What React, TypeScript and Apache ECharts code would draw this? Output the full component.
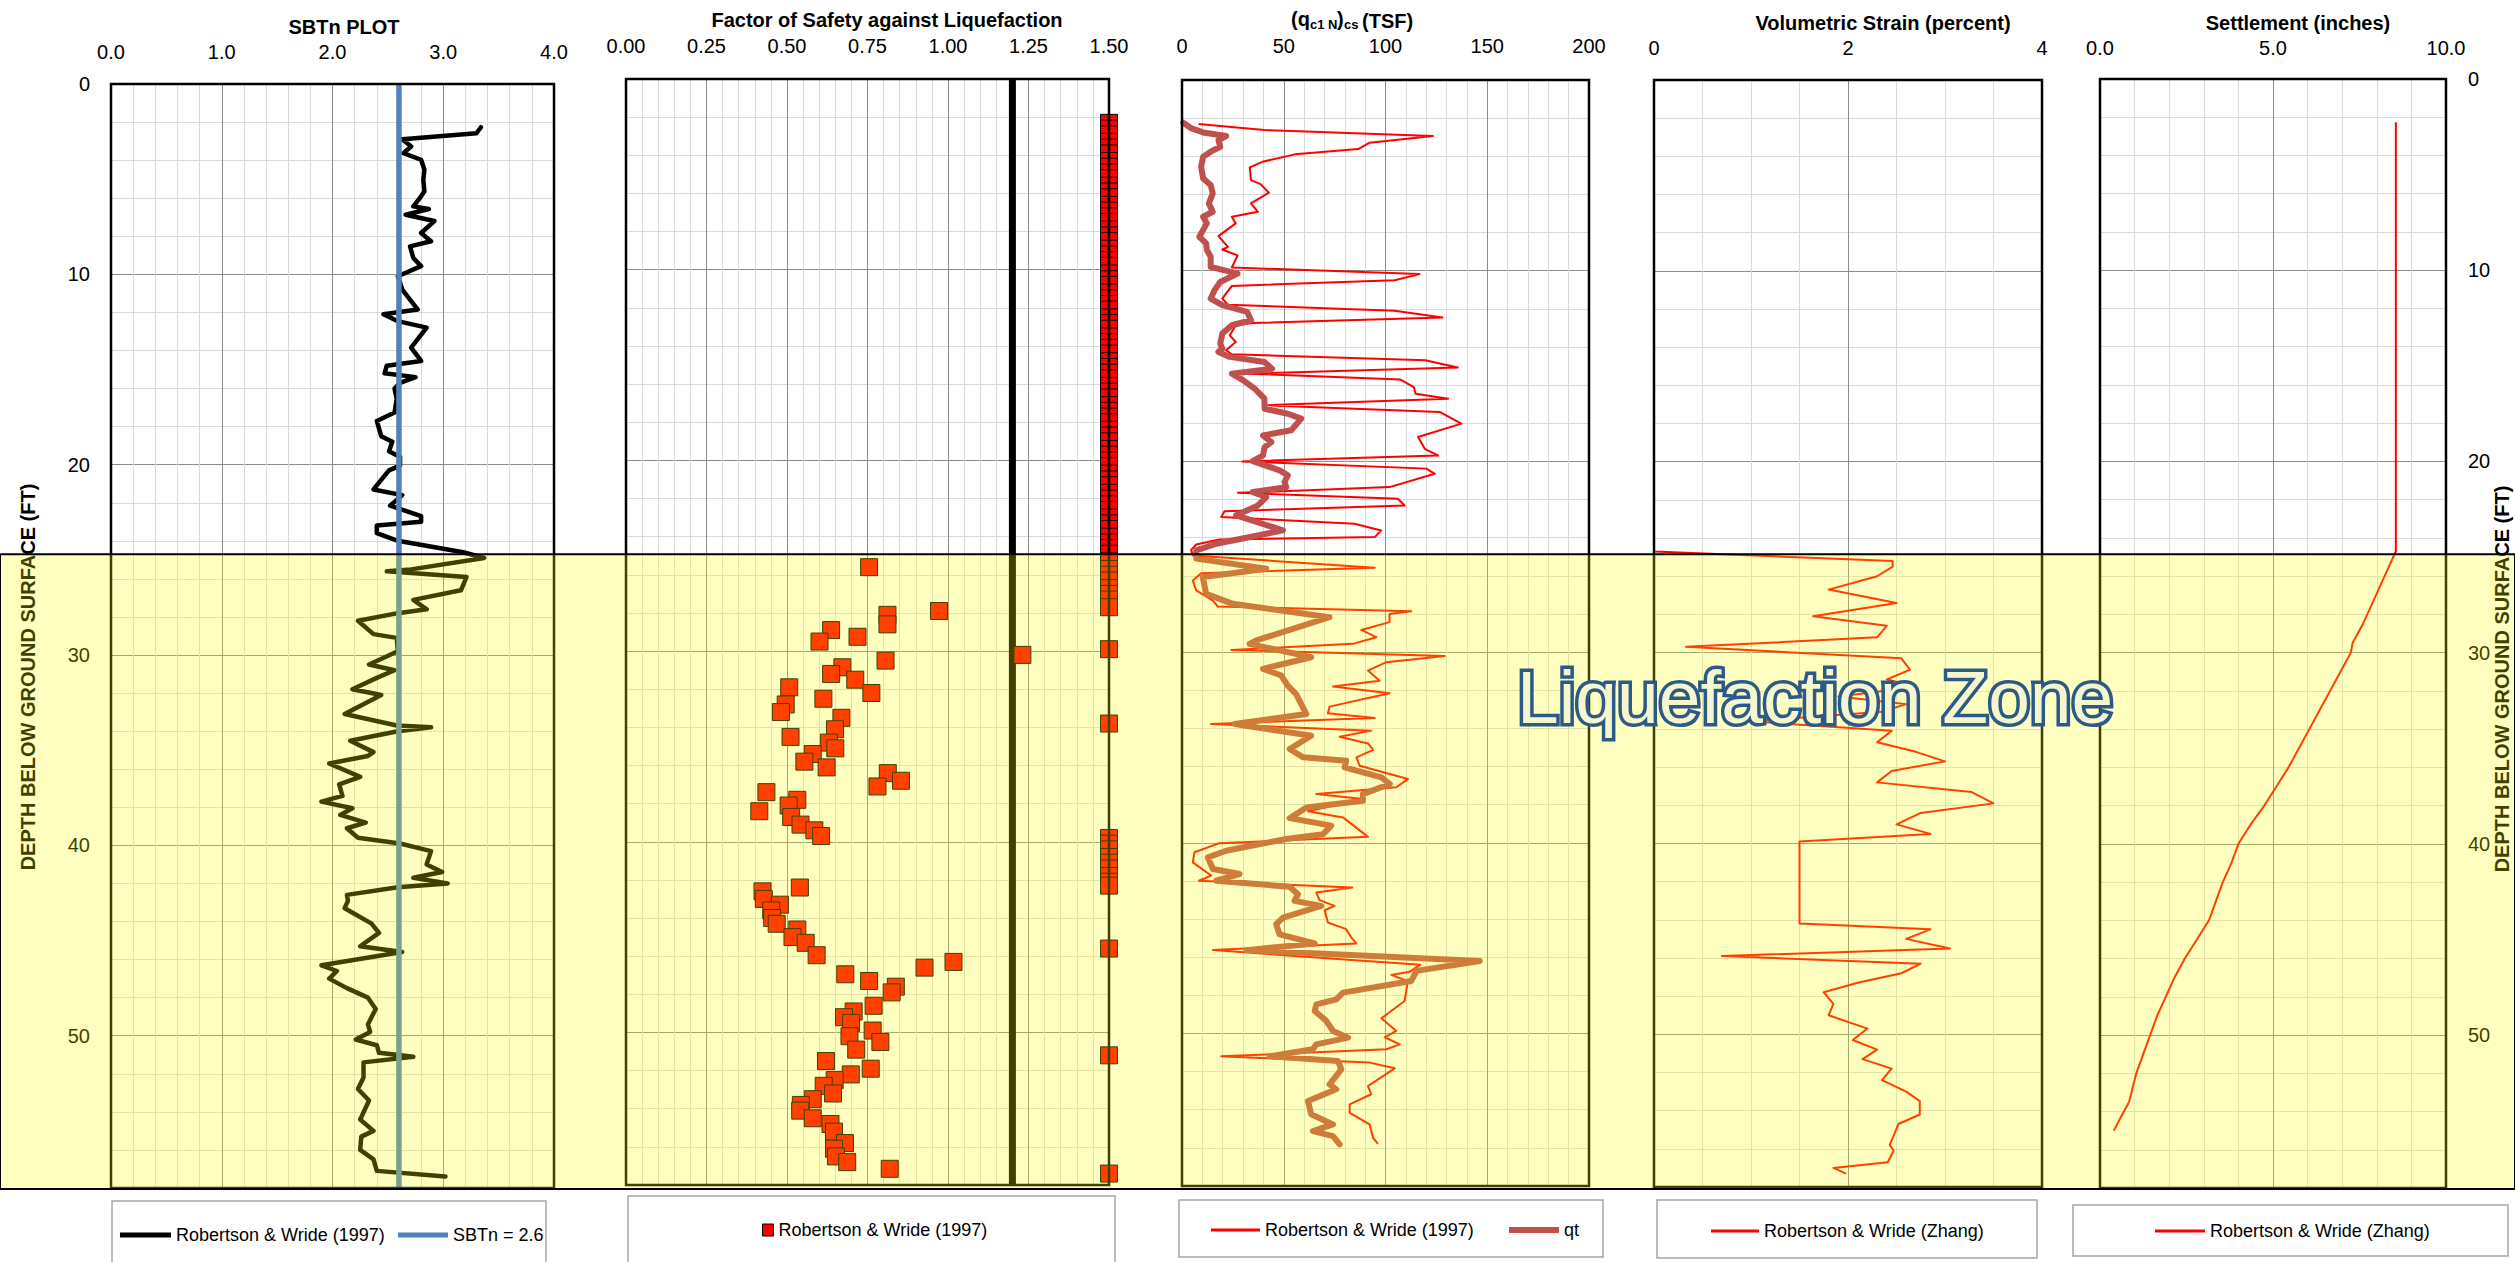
import React, { useEffect, useRef } from 'react';
import * as echarts from 'echarts';

const FONT = '"Liberation Sans", Arial, sans-serif';
const MAJOR = '#8C8C8C';
const MINOR = '#DADADA';

// ---------------- data ----------------
const depthTicks = [0, 10, 20, 30, 40, 50];
const depthRange = [0, 58];
const liquefactionTop = 24.7;

// SBTn plot
const sbtnTicks = [0, 1, 2, 3, 4];
const sbtnDepth = [2.27, 2.59, 2.9, 3.28, 3.63, 3.98, 4.5, 5.03, 5.64, 5.9, 6.43, 6.57, 6.87, 7.2, 7.83, 8.26, 8.53, 9.14, 9.57, 10.1, 10.8, 11.85, 12.1, 12.46, 12.8, 13.85, 14.55, 14.8, 15.2, 15.4, 15.7, 16.0, 16.56, 17.26, 17.7, 18.5, 18.8, 19.3, 19.6, 20.05, 20.3, 20.8, 21.3, 21.6, 22.15, 22.7, 23.0, 23.2, 23.6, 24.0, 24.6, 24.9, 25.5, 25.6, 25.9, 26.6, 27.1, 27.6, 27.8, 28.2, 28.9, 29.1, 29.8, 30.5, 30.8, 31.2, 31.8, 32.1, 33.1, 33.7, 33.8, 34.0, 34.5, 35.1, 35.3, 35.7, 36.4, 36.8, 37.4, 37.7, 38.05, 38.4, 38.8, 39.1, 39.6, 39.9, 40.3, 41.0, 41.4, 41.7, 42.0, 42.2, 42.6, 42.9, 43.3, 44.1, 44.6, 45.3, 45.6, 46.3, 46.6, 47.0, 47.5, 48.0, 48.6, 49.4, 49.8, 50.2, 50.5, 50.9, 51.1, 51.4, 52.2, 52.8, 53.4, 54.4, 55.0, 55.3, 56.0, 56.5, 57.1, 57.4];
const sbtnValue = [3.34, 3.30, 2.63, 2.71, 2.64, 2.80, 2.83, 2.82, 2.83, 2.80, 2.73, 2.87, 2.66, 2.92, 2.80, 2.89, 2.70, 2.73, 2.80, 2.59, 2.63, 2.77, 2.46, 2.59, 2.85, 2.71, 2.80, 2.49, 2.47, 2.75, 2.61, 2.56, 2.58, 2.56, 2.40, 2.44, 2.54, 2.51, 2.61, 2.61, 2.51, 2.44, 2.37, 2.63, 2.52, 2.80, 2.80, 2.40, 2.40, 2.59, 3.18, 3.37, 2.71, 2.49, 3.21, 3.16, 2.73, 2.85, 2.59, 2.23, 2.37, 2.58, 2.59, 2.33, 2.56, 2.40, 2.18, 2.44, 2.11, 2.58, 2.89, 2.59, 2.16, 2.37, 2.32, 1.97, 2.25, 2.06, 2.09, 1.90, 2.18, 2.07, 2.30, 2.13, 2.23, 2.61, 2.89, 2.85, 2.99, 2.73, 3.04, 2.59, 2.13, 2.14, 2.11, 2.35, 2.42, 2.25, 2.63, 1.90, 2.04, 1.97, 2.13, 2.32, 2.39, 2.32, 2.34, 2.21, 2.40, 2.42, 2.73, 2.28, 2.28, 2.23, 2.33, 2.25, 2.37, 2.26, 2.25, 2.37, 2.40, 3.02];
const sbtnThreshold = 2.6;
const sbtnThresholdDepth = [0, 58];

// Factor of safety
const fsTicks = [0, 0.25, 0.5, 0.75, 1, 1.25, 1.5];
const fsLimit = 1.2;
const fsLimitDepth = [0, 58];
const fsDepth = [2.3, 2.6, 2.9, 3.3, 3.6, 3.9, 4.3, 4.6, 4.9, 5.2, 5.6, 5.9, 6.2, 6.6, 6.9, 7.2, 7.5, 7.9, 8.2, 8.5, 8.9, 9.2, 9.5, 9.8, 10.2, 10.5, 10.8, 11.2, 11.5, 11.8, 12.1, 12.5, 12.8, 13.1, 13.5, 13.8, 14.1, 14.4, 14.8, 15.1, 15.4, 15.7, 16.1, 16.4, 16.7, 17.1, 17.4, 17.7, 18.0, 18.4, 18.7, 19.0, 19.4, 19.7, 20.0, 20.3, 20.7, 21.0, 21.3, 21.7, 22.0, 22.3, 22.6, 23.0, 23.3, 23.6, 24.0, 24.3, 24.6, 24.9, 25.3,
  25.6, 25.7, 26.0, 26.3, 26.7, 27.0, 27.3, 27.7, 27.9, 28.1, 28.6, 28.9, 29.25, 29.5, 29.9, 30.2, 30.5, 30.85, 31.2, 31.5, 31.9, 32.2, 32.5, 32.8, 33.2, 33.5, 33.8, 34.1, 34.5, 34.8, 35.1, 35.4, 35.8, 36.1, 36.4, 36.8, 37.1, 37.4, 37.8, 38.1, 38.4, 38.7, 39.1, 39.4, 39.7,
  39.8, 40.1, 40.4, 40.8, 41.1, 41.4, 41.8, 42.1, 42.3, 42.4, 42.6, 43.0, 43.3, 43.6, 44.0, 44.3, 44.6, 45.0, 45.3, 45.6, 45.95, 46.3, 46.6, 46.95, 47.3, 47.6, 47.9, 48.6, 48.9, 49.2, 49.5, 49.9, 50.2, 50.5, 50.9,
  51.2, 51.5, 51.9, 52.2, 52.5, 52.8, 53.2, 53.5, 53.8, 54.1, 54.5, 54.8, 55.2, 55.8, 56.1, 56.5, 56.8, 57.15, 57.4];
const fsValue = [1.5, 1.5, 1.5, 1.5, 1.5, 1.5, 1.5, 1.5, 1.5, 1.5, 1.5, 1.5, 1.5, 1.5, 1.5, 1.5, 1.5, 1.5, 1.5, 1.5, 1.5, 1.5, 1.5, 1.5, 1.5, 1.5, 1.5, 1.5, 1.5, 1.5, 1.5, 1.5, 1.5, 1.5, 1.5, 1.5, 1.5, 1.5, 1.5, 1.5, 1.5, 1.5, 1.5, 1.5, 1.5, 1.5, 1.5, 1.5, 1.5, 1.5, 1.5, 1.5, 1.5, 1.5, 1.5, 1.5, 1.5, 1.5, 1.5, 1.5, 1.5, 1.5, 1.5, 1.5, 1.5, 1.5, 1.5, 1.5, 1.5, 1.5, 1.5,
  0.755, 1.5, 1.5, 1.5, 1.5, 1.5, 1.5, 1.5, 0.972, 0.812, 0.812, 0.637, 0.719, 0.601, 1.5, 1.231, 0.806, 0.672, 0.637, 0.712, 0.507, 0.762, 0.613, 0.496, 0.481, 0.669, 1.5, 0.649, 0.511, 0.630, 0.650, 0.580, 0.554, 0.623, 0.813, 0.854, 0.781, 0.436, 0.532, 0.505, 0.414, 0.513, 0.542, 0.585, 0.606,
  1.5, 1.5, 1.5, 1.5, 1.5, 1.5, 1.5, 1.5, 1.5, 0.540, 0.424, 0.428, 0.478, 0.451, 0.454, 0.468, 0.532, 0.517, 0.558, 1.5, 0.592, 1.017, 0.927, 0.681, 0.755, 0.838, 0.825, 0.769, 0.707, 0.677, 0.699, 0.766, 0.694, 0.790, 0.715,
  1.5, 0.621, 0.760, 0.698, 0.648, 0.614, 0.643, 0.580, 0.543, 0.541, 0.580, 0.635, 0.646, 0.680, 0.646, 0.652, 0.687, 0.819, 1.5];

// (qc1N)cs and qt
const qcTicks = [0, 50, 100, 150, 200];
const qcDepth = [2.31, 2.62, 2.94, 3.29, 3.62, 3.9, 4.29, 4.58, 5.25, 5.46, 5.91, 6.47, 6.91, 7.17, 7.52, 8.19, 8.75, 8.89, 9.2, 9.83, 10.18, 10.5, 10.8, 11.46, 11.78, 12.1, 12.46, 12.74, 12.86, 13.39, 13.74, 14.17, 14.38, 14.7, 15.08, 15.4, 15.71, 16.1, 16.45, 16.71, 17.06, 17.41, 18.02, 18.72, 19.34, 19.69, 20.0, 20.38, 20.65, 21.35, 21.65, 21.96, 22.31, 22.62, 22.92, 23.27, 23.62, 23.97, 24.1, 24.36, 24.64, 24.93, 25.58, 25.87, 26.25, 26.77, 27.3, 27.61, 27.86, 28.0, 28.43, 28.84, 29.22, 29.57, 29.89, 30.2, 30.53, 30.97, 31.5, 31.81, 32.16, 32.86, 33.21, 33.46, 33.77, 34.12, 34.44, 34.79, 35.13, 35.52, 35.96, 36.66, 37.09, 37.44, 37.71, 38.35, 38.67, 39.69, 40.02, 40.5, 41.03, 41.72, 41.99, 42.35, 42.61, 43.01, 43.31, 43.54, 44.18, 44.53, 44.97, 45.28, 45.63, 46.4, 46.76, 46.93, 47.25, 47.5, 48.3, 49.2, 49.87, 50.2, 50.57, 50.83, 51.2, 51.53, 51.83, 52.76, 53.19, 53.72, 54.16, 54.77, 55.47, 55.79];
const qcValue = [8.1, 40.5, 123.3, 92.2, 86.6, 55.5, 39.5, 33.3, 33.9, 38.6, 42.7, 33.9, 37.3, 24.5, 26.4, 17.9, 22.6, 19.8, 27.3, 24.5, 116.7, 104.5, 24.5, 19.8, 22.6, 104.5, 128, 34.8, 26.4, 23.5, 26.4, 21.6, 24.5, 119.5, 135.5, 32, 107.3, 113.9, 114.8, 130.8, 40.6, 126.6, 137.3, 116, 119.3, 125.8, 29.6, 120.1, 124.2, 102, 27.5, 106.1, 109.4, 20.9, 19.3, 84.8, 97.9, 94.7, 18.4, 7.0, 4.5, 5.3, 94.7, 9.4, 5.3, 7.0, 15.2, 17.6, 112.7, 102, 102, 88.1, 95.5, 84, 24.2, 129.1, 100.4, 91.4, 97.1, 74.2, 102, 72.5, 71.7, 94.7, 14.3, 93.0, 77.5, 91.4, 93.9, 85.7, 87.3, 111, 105.3, 66, 88.9, 61.9, 79.1, 91.4, 18.4, 6.1, 5.3, 14.3, 8.3, 83.7, 66, 67.6, 75, 70.1, 71.7, 80.7, 83.2, 85.7, 15.2, 117, 111.9, 102.9, 110.6, 110.6, 109.4, 98, 105.3, 99.6, 107, 100.4, 19.3, 92.2, 104.5, 91.4, 93, 82.4, 82.4, 92.2, 93.9, 96.3];
const qtDepth = [2.24, 2.54, 2.75, 2.94, 3.15, 3.5, 3.76, 4.02, 4.55, 5.16, 5.51, 5.95, 6.47, 6.91, 7.17, 7.52, 8.22, 8.57, 8.92, 9.27, 9.8, 10.15, 10.59, 11.02, 11.46, 11.81, 12.16, 12.6, 12.86, 13.3, 13.82, 14.09, 14.26, 14.52, 14.79, 15.14, 15.4, 15.75, 16.19, 16.71, 17.24, 17.5, 17.76, 18.37, 18.64, 18.99, 19.25, 19.69, 19.99, 20.47, 20.73, 21.08, 21.35, 21.61, 21.87, 22.31, 22.83, 23.62, 24.32, 24.67, 25.1, 25.63, 26.07, 26.95, 27.47, 28.17, 29.39, 29.57, 30.27, 30.88, 31.23, 31.76, 32.2, 33.25, 33.77, 34.39, 35.08, 35.52, 35.7, 36.05, 36.57, 36.92, 37.45, 37.8, 38.15, 38.71, 39.1, 39.55, 39.8, 40.42, 40.77, 41.38, 41.64, 41.99, 42.31, 42.7, 43.05, 43.31, 43.92, 44.27, 44.8, 45.28, 45.63, 46.2, 46.72, 47.25, 47.86, 48.21, 48.48, 48.82, 49.34, 49.87, 50.22, 50.57, 50.83, 51.2, 51.44, 51.88, 52.67, 52.93, 53.54, 54.24, 54.77, 55.12, 55.38, 55.82];
const qtValue = [0.6, 4.7, 10.4, 21.7, 17.9, 18.8, 14.1, 10.4, 9.4, 10.4, 14.1, 15.1, 13.2, 15.1, 10.4, 12.2, 8.5, 11.9, 12.2, 14.1, 14.1, 27.3, 18.8, 16, 14.1, 19.8, 32, 33.9, 24.5, 19.8, 18.8, 19.8, 17.9, 23.5, 40.5, 44.2, 24.5, 30.1, 35.8, 40.5, 40.6, 52, 58.6, 53.7, 39.8, 43.9, 40.6, 39.8, 34.8, 48, 52, 50.4, 51.2, 34.8, 41.4, 37.3, 26.6, 49.6, 16.8, 7, 7, 41.4, 10.2, 11.9, 25, 72.5, 36.5, 33.2, 63.5, 39.8, 48.8, 52, 56.1, 61.1, 25.8, 63.5, 52.9, 59.4, 80.7, 79.9, 98, 102.1, 88.9, 88.9, 61.1, 52.9, 73.4, 69.3, 51.2, 21.7, 12.7, 15.2, 28.3, 16.8, 52.9, 57, 55.3, 68.4, 49.6, 46.3, 47.9, 65.2, 31.6, 146.3, 115.2, 112.7, 79.1, 75.8, 66, 65.2, 70.9, 74.2, 81.6, 66, 64.3, 43, 76.6, 78.3, 72.5, 75.8, 61.9, 63.5, 74.2, 64.3, 74.2, 77.5];

// Volumetric strain (percent)
const strainTicks = [0, 2, 4];
const strainDepth = [2.26, 24.7, 25.2, 25.5, 26.0, 26.7, 27.4, 28.1, 28.6, 29.2, 29.7, 30.3, 30.9, 31.4, 31.8, 32.3, 32.7, 33.1, 33.6, 34.1, 34.7, 35.2, 35.7, 36.2, 36.8, 37.3, 37.9, 38.4, 39.0, 39.5, 39.9, 44.2, 44.5, 45.0, 45.5, 45.9, 46.3, 46.8, 47.3, 47.8, 48.4, 49.0, 49.7, 50.3, 50.8, 51.3, 51.8, 52.4, 53.0, 53.5, 54.2, 54.7, 55.8, 56.1, 56.7, 57.0, 57.3];
const strainValue = [0, 0, 2.46, 2.46, 2.30, 1.80, 2.50, 1.64, 2.40, 2.30, 0.33, 2.55, 2.64, 2.40, 2.70, 1.90, 2.60, 2.35, 1.00, 2.45, 2.30, 2.70, 3.00, 2.45, 2.30, 3.27, 3.50, 2.75, 2.50, 2.85, 1.50, 1.50, 2.85, 2.60, 3.05, 0.70, 2.75, 2.55, 2.10, 1.75, 1.85, 1.80, 2.20, 2.05, 2.30, 2.15, 2.45, 2.35, 2.60, 2.74, 2.74, 2.52, 2.43, 2.47, 2.41, 1.85, 1.98];

// Settlement (inches)
const settleTicks = [0, 5, 10];
const settleDepth = [2.26, 24.7, 25.5, 26.5, 27.5, 28.5, 29.5, 30.0, 31.0, 32.0, 33.0, 34.0, 35.0, 36.0, 37.0, 38.0, 39.0, 40.0, 41.0, 42.0, 43.0, 44.0, 45.0, 46.0, 47.0, 48.0, 49.0, 50.0, 51.0, 52.0, 53.5, 54.3, 55.0];
const settleValue = [8.55, 8.55, 8.35, 8.1, 7.85, 7.6, 7.3, 7.25, 6.95, 6.65, 6.35, 6.05, 5.75, 5.45, 5.1, 4.75, 4.35, 4.0, 3.8, 3.55, 3.35, 3.15, 2.8, 2.45, 2.15, 1.9, 1.65, 1.45, 1.25, 1.05, 0.84, 0.6, 0.4];

// ---------------- layout ----------------
const PANELS = [
  { left: 111, top: 84, width: 443, height: 1104, labelMargin: 22 },
  { left: 626, top: 79, width: 483, height: 1106, labelMargin: 23 },
  { left: 1182, top: 80, width: 407, height: 1106, labelMargin: 24 },
  { left: 1654, top: 80, width: 388, height: 1107, labelMargin: 22 },
  { left: 2100, top: 79, width: 346, height: 1109, labelMargin: 21 },
];

function pairs(xs: number[], ds: number[]) {
  return ds.map((d, i) => [xs[i], d]);
}

function splitColors(majorEvery: number) {
  const c = [MAJOR];
  for (let k = 1; k < majorEvery; k++) c.push(MINOR);
  return c;
}

function xAxisFor(idx: number, min: number, max: number, step: number, majorEvery: number, ticks: number[], digits: number) {
  return {
    gridIndex: idx,
    type: 'value',
    position: 'top',
    min,
    max,
    interval: step,
    axisLine: { show: false },
    axisTick: { show: false },
    axisLabel: {
      margin: PANELS[idx].labelMargin,
      fontSize: 20,
      color: '#000',
      fontFamily: FONT,
      formatter: (v: number) => {
        const hit = ticks.find((t) => Math.abs(t - v) < 1e-6);
        return hit === undefined ? '' : hit.toFixed(digits);
      },
    },
    splitLine: { show: true, lineStyle: { color: splitColors(majorEvery), width: 1 } },
  };
}

function yAxisFor(idx: number, showLabels: boolean, position: string) {
  return {
    gridIndex: idx,
    type: 'value',
    inverse: true,
    min: depthRange[0],
    max: depthRange[1],
    interval: 2,
    position,
    axisLine: { show: false },
    axisTick: { show: false },
    axisLabel: {
      show: showLabels,
      margin: position === 'right' ? 22 : 21,
      fontSize: 20,
      color: '#000',
      fontFamily: FONT,
      formatter: (v: number) => (depthTicks.some((t) => Math.abs(t - v) < 1e-6) ? String(Math.round(v)) : ''),
    },
    splitLine: { show: true, lineStyle: { color: splitColors(5), width: 1 } },
  };
}

function legendFor(left: number, top: number, name: string, w: number, h: number, itemStyle: any) {
  return {
    show: true,
    left,
    top,
    orient: 'horizontal',
    padding: 0,
    itemGap: 0,
    itemWidth: w,
    itemHeight: h,
    selectedMode: false,
    textStyle: { fontSize: 18, color: '#000', fontFamily: FONT },
    data: [{ name, icon: 'rect', itemStyle }],
  };
}

function text(x: number, y: number, str: string, font: string, extra: any = {}) {
  return {
    type: 'text',
    x,
    y,
    z: 10,
    style: { text: str, font, fill: '#000', align: 'center', verticalAlign: 'middle', ...extra },
  };
}

export default function App() {
  const ref = useRef<HTMLDivElement>(null);

  useEffect(() => {
    document.body.style.margin = '0';
    document.body.style.overflow = 'hidden';
    if (!ref.current) return;
    const chart = echarts.init(ref.current, null, { renderer: 'svg' });

    const noEmph = { disabled: true };
    const option: any = {
      animation: false,
      backgroundColor: '#ffffff',
      textStyle: { fontFamily: FONT },
      grid: PANELS.map((p) => ({ left: p.left, top: p.top, width: p.width, height: p.height, containLabel: false })),
      xAxis: [
        xAxisFor(0, 0, 4, 0.2, 5, sbtnTicks, 1),
        xAxisFor(1, 0, 1.5, 0.05, 5, fsTicks, 2),
        xAxisFor(2, 0, 200, 10, 5, qcTicks, 0),
        xAxisFor(3, 0, 4, 0.5, 4, strainTicks, 0),
        xAxisFor(4, 0, 10, 1, 5, settleTicks, 1),
      ],
      yAxis: [
        yAxisFor(0, true, 'left'),
        yAxisFor(1, false, 'left'),
        yAxisFor(2, false, 'left'),
        yAxisFor(3, false, 'left'),
        yAxisFor(4, true, 'right'),
      ],
      legend: [
        legendFor(120, 1226, 'Robertson & Wride (1997)', 51, 5, { color: '#000', borderWidth: 0 }),
        legendFor(398, 1226, 'SBTn = 2.6', 50, 5, { color: '#4F81BD', borderWidth: 0 }),
        legendFor(762, 1221, 'Robertson & Wride (1997)', 11, 12, { color: '#FF0000', borderColor: '#000', borderWidth: 1 }),
        legendFor(1211, 1221, 'Robertson & Wride (1997)', 49, 3, { color: '#FF0000', borderWidth: 0 }),
        legendFor(1509, 1221, 'qt', 50, 6, { color: '#C0504D', borderWidth: 0 }),
        legendFor(1711, 1222, 'Robertson & Wride (Zhang)', 48, 3, { color: '#FF0000', borderWidth: 0 }),
        legendFor(2155, 1222, 'Robertson & Wride (Zhang)', 50, 3, { color: '#FF0000', borderWidth: 0 }),
      ],
      series: [
        {
          type: 'line', name: 'Robertson & Wride (1997)', xAxisIndex: 0, yAxisIndex: 0,
          data: pairs(sbtnValue, sbtnDepth), symbol: 'none', showSymbol: false, emphasis: noEmph,
          lineStyle: { color: '#000', width: 4.5, cap: 'round', join: 'round' }, itemStyle: { color: '#000' }, z: 3,
        },
        {
          type: 'line', name: 'SBTn = 2.6', xAxisIndex: 0, yAxisIndex: 0,
          data: sbtnThresholdDepth.map((d) => [sbtnThreshold, d]), symbol: 'none', emphasis: noEmph,
          lineStyle: { color: '#4F81BD', width: 5.5 }, itemStyle: { color: '#4F81BD' }, z: 4,
        },
        {
          type: 'line', name: 'FS = 1.2', xAxisIndex: 1, yAxisIndex: 1,
          data: fsLimitDepth.map((d) => [fsLimit, d]), symbol: 'none', emphasis: noEmph, silent: true,
          lineStyle: { color: '#000', width: 7 }, itemStyle: { color: '#000' }, z: 3,
        },
        {
          type: 'scatter', name: 'Robertson & Wride (1997)', xAxisIndex: 1, yAxisIndex: 1,
          data: pairs(fsValue, fsDepth), symbol: 'rect', symbolSize: 17, clip: false, emphasis: noEmph,
          itemStyle: { color: '#FF0000', borderColor: '#000', borderWidth: 1, opacity: 1 }, z: 4,
        },
        {
          type: 'line', name: 'Robertson & Wride (1997)', xAxisIndex: 2, yAxisIndex: 2,
          data: pairs(qcValue, qcDepth), symbol: 'none', emphasis: noEmph,
          lineStyle: { color: '#FF0000', width: 2, join: 'round' }, itemStyle: { color: '#FF0000' }, z: 3,
        },
        {
          type: 'line', name: 'qt', xAxisIndex: 2, yAxisIndex: 2,
          data: pairs(qtValue, qtDepth), symbol: 'none', emphasis: noEmph,
          lineStyle: { color: '#C0504D', width: 6, cap: 'round', join: 'round' }, itemStyle: { color: '#C0504D' }, z: 4,
        },
        {
          type: 'line', name: 'Robertson & Wride (Zhang)', xAxisIndex: 3, yAxisIndex: 3,
          data: pairs(strainValue, strainDepth), symbol: 'none', emphasis: noEmph,
          lineStyle: { color: '#FF0000', width: 2, join: 'round' }, itemStyle: { color: '#FF0000' }, z: 3,
        },
        {
          type: 'line', name: 'Robertson & Wride (Zhang)', xAxisIndex: 4, yAxisIndex: 4,
          data: pairs(settleValue, settleDepth), symbol: 'none', emphasis: noEmph,
          lineStyle: { color: '#FF0000', width: 2, join: 'round' }, itemStyle: { color: '#FF0000' }, z: 3,
        },
      ],
    };
    chart.setOption(option);

    const zoneTop = chart.convertToPixel({ gridIndex: 0 } as any, [0, liquefactionTop]) as number[];
    const zoneBot = chart.convertToPixel({ gridIndex: 0 } as any, [0, depthRange[1]]) as number[];
    const W = chart.getWidth();

    const bold = `bold 20px ${FONT}`;
    const graphics: any[] = [];

    // legend boxes
    const boxes = [
      [112, 1201, 434, 80],
      [628, 1196, 487, 80],
      [1179, 1200, 424, 57],
      [1657, 1200, 380, 58],
      [2073, 1205, 435, 51],
    ];
    boxes.forEach((b) =>
      graphics.push({
        type: 'rect', z: 1, silent: true,
        shape: { x: b[0], y: b[1], width: b[2], height: b[3] },
        style: { fill: '#ffffff', stroke: '#A6A6A6', lineWidth: 1.5 },
      })
    );

    // plot borders
    PANELS.forEach((p) =>
      graphics.push({
        type: 'rect', z: 6, silent: true,
        shape: { x: p.left, y: p.top, width: p.width, height: p.height },
        style: { fill: 'none', stroke: '#000', lineWidth: 2.5 },
      })
    );

    // titles
    graphics.push(text(344, 27, 'SBTn PLOT', bold));
    graphics.push(text(887, 20, 'Factor of Safety against Liquefaction', bold));
    graphics.push(text(1883, 23, 'Volumetric Strain (percent)', bold));
    graphics.push(text(2298, 23, 'Settlement (inches)', bold));
    graphics.push(text(1291, 19, '(q', bold, { align: 'left' }));
    graphics.push(text(1310, 24, 'c1 N', `bold 13px ${FONT}`, { align: 'left' }));
    graphics.push(text(1337, 19, ')', bold, { align: 'left' }));
    graphics.push(text(1344, 24, 'cs', `bold 13px ${FONT}`, { align: 'left' }));
    graphics.push(text(1362, 21, '(TSF)', bold, { align: 'left' }));

    // depth axis names
    graphics.push({ ...text(28, 677, 'DEPTH BELOW GROUND SURFACE (FT)', bold), rotation: Math.PI / 2 });
    graphics.push({ ...text(2502, 679, 'DEPTH BELOW GROUND SURFACE (FT)', bold), rotation: Math.PI / 2 });

    // liquefaction zone overlay
    graphics.push({
      type: 'rect', z: 50, silent: true,
      shape: { x: 0, y: zoneTop[1], width: W, height: zoneBot[1] - zoneTop[1] + 1 },
      style: { fill: 'rgba(255,255,0,0.25)', stroke: '#000', lineWidth: 2 },
    });
    graphics.push({
      type: 'text', z: 60, x: 1517, y: 697, silent: true,
      style: {
        text: 'Liquefaction Zone',
        font: `75px ${FONT}`,
        fill: '#F6F6CE',
        stroke: '#2B5A88',
        lineWidth: 7,
        align: 'left',
        verticalAlign: 'middle',
        shadowColor: 'rgba(0,0,0,0.35)',
        shadowBlur: 3,
        shadowOffsetX: 2,
        shadowOffsetY: 2,
      },
    });

    chart.setOption({ graphic: graphics });

    return () => {
      chart.dispose();
    };
  }, []);

  return <div ref={ref} style={{ width: 2515, height: 1262 }} />;
}
